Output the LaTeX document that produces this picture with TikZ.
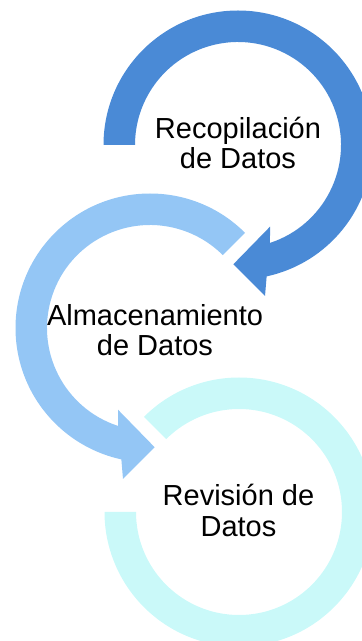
\documentclass[tikz,border=0pt]{standalone}
\usepackage{fontspec}
\setmainfont{Liberation Sans}
\definecolor{arrowA}{HTML}{4A8AD6}
\definecolor{arrowB}{HTML}{94C6F5}
\definecolor{arrowC}{HTML}{CAF9F9}
\begin{document}
\begin{tikzpicture}[x=1pt,y=1pt,
  lbl/.style={font=\fontsize{29}{30.5}\selectfont, align=center, inner sep=0pt, anchor=base}]
\useasboundingbox (0,0) rectangle (362,641);
\clip (0,0) rectangle (362,641);
% step 3 (bottom, plain arc)
\fill[arrowC, shift={(239,129)}] (135:134.5) arc[start angle=135, end angle=-180, radius=134.5]
  -- (180:103) arc[start angle=-180, end angle=135, radius=103] -- cycle;
% step 2 (middle, arrow to the right)
\fill[arrowB, shift={(150,313)}] (45:134.5) arc[start angle=45, end angle=257.7, radius=134.5]
  -- (-27,-151) -- (4.7,-119.3) -- (-32,-81.7) -- (251.9:103)
  arc[start angle=251.9, end angle=45, radius=103] -- cycle;
% step 1 (top, arrow to the left)
\fill[arrowA, shift={(238,496)}] (180:134.5) arc[start angle=180, end angle=-77.7, radius=134.5]
  -- (27,-151) -- (-4.7,-119.3) -- (32,-81.7) -- (-71.9:103)
  arc[start angle=-71.9, end angle=180, radius=103] -- cycle;
\node[lbl] (t1) at (238,472) {Recopilación\\de Datos};
\node[lbl] (t2) at (155,285) {Almacenamiento\\de Datos};
\node[lbl] (t3) at (238.5,104.5) {Revisión de\\Datos};
\end{tikzpicture}
\end{document}
